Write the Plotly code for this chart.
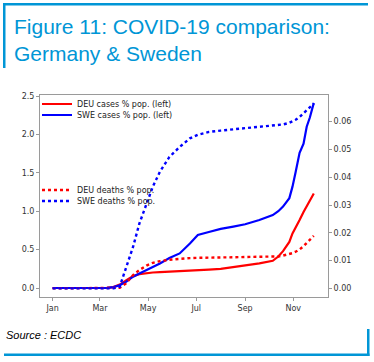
import plotly.graph_objects as go

dates = ["2020-01-01", "2020-03-01", "2020-03-10", "2020-03-18", "2020-03-26", "2020-04-03",
         "2020-04-12", "2020-04-20", "2020-04-29", "2020-05-07", "2020-05-16", "2020-05-28",
         "2020-06-10", "2020-06-23", "2020-07-03", "2020-07-17", "2020-08-01", "2020-08-17",
         "2020-09-01", "2020-09-19", "2020-10-06", "2020-10-13", "2020-10-19", "2020-10-27",
         "2020-10-31", "2020-11-04", "2020-11-09", "2020-11-14", "2020-11-18", "2020-11-22",
         "2020-11-27"]

swe_cases = [0, 0, 0.003, 0.012, 0.035, 0.08, 0.147, 0.19, 0.234, 0.28, 0.32, 0.39,
             0.45, 0.58, 0.69, 0.73, 0.77, 0.80, 0.83, 0.885, 0.95, 1.0, 1.06, 1.17,
             1.32, 1.51, 1.76, 1.88, 2.10, 2.22, 2.41]

deu_cases = [0, 0.0002, 0.002, 0.012, 0.045, 0.10, 0.155, 0.18, 0.195, 0.202, 0.207, 0.212,
             0.221, 0.228, 0.234, 0.24, 0.25, 0.27, 0.29, 0.32, 0.355, 0.41, 0.48, 0.60,
             0.71, 0.78, 0.885, 0.99, 1.07, 1.14, 1.23]

swe_deaths = [0, 0, 0, 0, 0.0006, 0.0078, 0.015, 0.0234, 0.0306, 0.0366, 0.042, 0.0473,
              0.0509, 0.054, 0.0553, 0.0563, 0.0568, 0.0572, 0.0576, 0.0582, 0.0585, 0.0587,
              0.059, 0.0596, 0.0601, 0.0607, 0.0617, 0.063, 0.0642, 0.0652, 0.0665]

deu_deaths = [0, 0, 0, 0, 0.0002, 0.0018, 0.0048, 0.0066, 0.0082, 0.0092, 0.0098, 0.0103,
              0.0107, 0.0109, 0.011, 0.011, 0.0111, 0.0112, 0.0113, 0.0114, 0.0114, 0.0115,
              0.0118, 0.0123, 0.0127, 0.0132, 0.014, 0.0152, 0.0164, 0.0175, 0.0189]

month_ticks = ["2020-01-01", "2020-03-01", "2020-05-01", "2020-07-01", "2020-09-01", "2020-11-01"]
month_labels = ["Jan", "Mar", "May", "Jul", "Sep", "Nov"]
left_ticks = [0.0, 0.5, 1.0, 1.5, 2.0, 2.5]
right_ticks = [0.0, 0.01, 0.02, 0.03, 0.04, 0.05, 0.06]

RED = "#ff0000"
BLUE = "#0000ff"
ACCENT = "#0096d6"
W, H = 374, 362
L, R, T, B = 40, 328, 95, 297


def px_x(p):
    return (p - L) / (R - L)


def px_y(p):
    return (B - p) / (B - T)


fig = go.Figure()
fig.add_trace(go.Scatter(x=dates, y=deu_cases, name="DEU cases % pop. (left)", mode="lines",
                         line=dict(color=RED, width=2.2), legend="legend"))
fig.add_trace(go.Scatter(x=dates, y=swe_cases, name="SWE cases % pop. (left)", mode="lines",
                         line=dict(color=BLUE, width=2.2), legend="legend2"))
fig.add_trace(go.Scatter(x=dates, y=deu_deaths, name="DEU deaths % pop.", mode="lines",
                         line=dict(color=RED, width=2.4, dash="dot"), yaxis="y2", legend="legend3"))
fig.add_trace(go.Scatter(x=dates, y=swe_deaths, name="SWE deaths % pop.", mode="lines",
                         line=dict(color=BLUE, width=2.4, dash="dot"), yaxis="y2", legend="legend4"))

tickfont = dict(family="DejaVu Sans", size=8, color="#333333")
frame = "#9a9a9a"

legend_common = dict(x=px_x(37), xanchor="left", yanchor="middle", bgcolor="rgba(0,0,0,0)",
                     borderwidth=0, font=dict(family="DejaVu Sans", size=8, color="#222222"),
                     itemwidth=30, tracegroupgap=0)

shapes = []
for (x0, x1, y0, y1) in [(3, 368, 3, 5.5), (3, 5.5, 3, 68), (4, 369.5, 353.5, 356), (367, 369.5, 329, 356)]:
    shapes.append(dict(type="rect", xref="paper", yref="paper",
                       x0=px_x(x0), x1=px_x(x1), y0=px_y(y0), y1=px_y(y1),
                       fillcolor=ACCENT, line=dict(width=0), layer="above"))

fig.update_layout(
    width=W, height=H,
    margin=dict(l=L, r=W - R, t=T, b=H - B),
    paper_bgcolor="white", plot_bgcolor="white",
    showlegend=True,
    xaxis=dict(type="date", range=["2019-12-16", "2020-12-15"], tickvals=month_ticks,
               ticktext=month_labels, showgrid=False, zeroline=False, showline=True,
               linecolor=frame, linewidth=1, mirror=True, ticks="outside", ticklen=3,
               tickcolor=frame, tickfont=tickfont),
    yaxis=dict(range=[-0.117, 2.513], tickvals=left_ticks, tickformat=".1f", showgrid=False,
               zeroline=False, showline=True, linecolor=frame, linewidth=1, ticks="outside",
               ticklen=3, tickcolor=frame, tickfont=tickfont),
    yaxis2=dict(range=[-0.0031, 0.0696], tickvals=right_ticks, tickformat=".2f", overlaying="y",
                side="right", showgrid=False, zeroline=False, showline=True, linecolor=frame,
                linewidth=1, ticks="outside", ticklen=3, tickcolor=frame, tickfont=tickfont),
    legend=dict(y=px_y(104), **legend_common),
    legend2=dict(y=px_y(115), **legend_common),
    legend3=dict(y=px_y(190), **legend_common),
    legend4=dict(y=px_y(201), **legend_common),
    shapes=shapes,
    annotations=[
        dict(text="Figure 11: COVID-19 comparison:<br>Germany &amp; Sweden", xref="paper", yref="paper",
             x=px_x(11.5), y=px_y(40), xanchor="left", yanchor="middle", align="left",
             showarrow=False, font=dict(family="Liberation Sans", size=21, color=ACCENT)),
        dict(text="<i>Source : ECDC</i>", xref="paper", yref="paper", x=px_x(3.5), y=px_y(335),
             xanchor="left", yanchor="middle", showarrow=False,
             font=dict(family="Liberation Sans", size=11, color="#000000")),
    ],
)

fig.write_html("out.html", config={"displayModeBar": False},
               post_script="document.body.style.margin='0';")
